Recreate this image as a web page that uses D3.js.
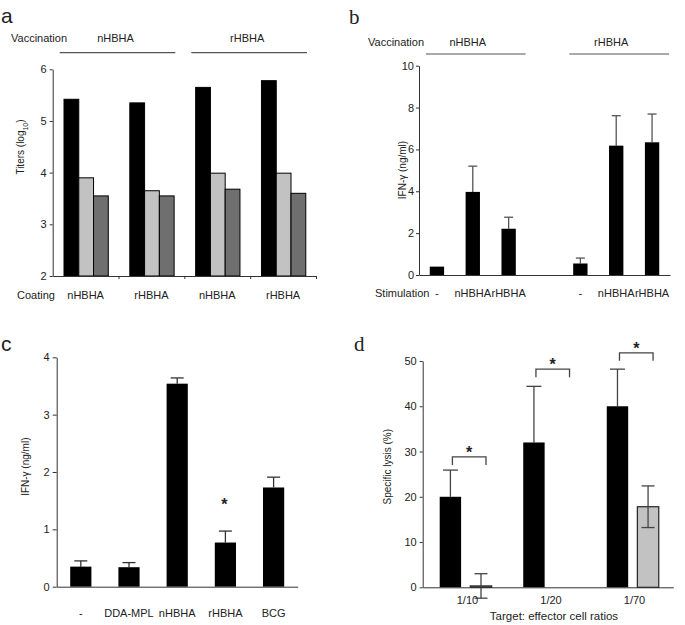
<!DOCTYPE html>
<html>
<head>
<meta charset="utf-8">
<script src="https://cdn.jsdelivr.net/npm/d3@7"></script>
<style>
  body { margin: 0; background: #fff; }
  svg text { font-family: "Liberation Sans", Arial, sans-serif; fill: #222; }
  .tick text { font-size: 11px; }
  .lab { font-size: 21px; fill: #222; }
  .serif { font-family: "Liberation Serif", "DejaVu Serif", serif !important; }
</style>
</head>
<body>
<svg id="fig" width="685" height="625"></svg>
<script>
// panel a
var coatingLabels = ['nHBHA', 'rHBHA', 'nHBHA', 'rHBHA'];
var vaccGroups = ['nHBHA', 'rHBHA'];
var titersBlack = [5.42, 5.35, 5.65, 5.78];
var titersLight = [3.90, 3.65, 3.99, 3.99];
var titersDark = [3.55, 3.55, 3.68, 3.60];
var titerTicks = [2, 3, 4, 5, 6];

// panel b
var stimLabels = ['-', 'nHBHA', 'rHBHA', '', '-', 'nHBHA', 'rHBHA'];
var ifnB = [0.4, 3.97, 2.21, null, 0.55, 6.18, 6.34];
var ifnBErr = [0, 1.23, 0.55, null, 0.26, 1.43, 1.35];
var ticksB = [0, 2, 4, 6, 8, 10];

// panel c
var groupsC = ['-', 'DDA-MPL', 'nHBHA', 'rHBHA', 'BCG'];
var ifnC = [0.35, 0.34, 3.54, 0.77, 1.73];
var ifnCErr = [0.10, 0.08, 0.10, 0.20, 0.18];
var ticksC = [0, 1, 2, 3, 4];
var starC = 'rHBHA';

// panel d
var ratios = ['1/10', '1/20', '1/70'];
var lysisBlack = [20, 32, 40];
var lysisBlackErr = [5.9, 12.4, 8.2];
var lysisGray = [0.3, 0, 17.8];
var lysisGrayErr = [2.7, 0, 4.6];
var bracketLevels = [28.8, 48.2, 51.8];
var ticksD = [0, 10, 20, 30, 40, 50];

var svg = d3.select('#fig');
var axisCol = '#333';
var fmt = d3.format('d');

function styleAxis(g) {
  g.selectAll('path, line').attr('stroke', axisCol);
  g.selectAll('text').attr('fill', '#111');
}

function panelLabel(t, x, y, serif) {
  svg.append('text').attr('class', 'lab' + (serif ? ' serif' : ''))
    .attr('x', x).attr('y', y).text(t);
}

function yTitle(x, y, parts) {
  var t = svg.append('text')
    .attr('transform', 'translate(' + x + ',' + y + ') rotate(-90)')
    .attr('text-anchor', 'middle')
    .style('font-size', '10px');
  parts.forEach(function(p) {
    var s = t.append('tspan').text(p.t);
    if (p.sub) s.attr('baseline-shift', 'sub').style('font-size', '7px');
  });
}

function errBar(g, cx, y0, y1, cap, col) {
  g.append('line').attr('x1', cx).attr('x2', cx).attr('y1', y0).attr('y2', y1)
    .attr('stroke', col).attr('stroke-width', 1.3);
  g.append('line').attr('x1', cx - cap / 2).attr('x2', cx + cap / 2).attr('y1', y1).attr('y2', y1)
    .attr('stroke', col).attr('stroke-width', 1.3);
}

/* ---------- a ---------- */
(function() {
  panelLabel('a', 1, 23, false);
  var y = d3.scaleLinear().domain([2, 6]).range([276, 69.3]);
  var x0 = d3.scaleBand().domain(d3.range(coatingLabels.length)).range([52.7, 316]).padding(0);
  var x1 = d3.scaleBand().domain(['black', 'light', 'dark']).range([11.3, 55.6]).padding(0);
  var fills = { black: '#000', light: '#c2c2c2', dark: '#6f6f6f' };
  var series = { black: titersBlack, light: titersLight, dark: titersDark };

  var g = svg.append('g');
  coatingLabels.forEach(function(c, i) {
    ['black', 'light', 'dark'].forEach(function(k) {
      var v = series[k][i];
      g.append('rect')
        .attr('x', x0(i) + x1(k))
        .attr('y', y(v))
        .attr('width', x1.bandwidth())
        .attr('height', y(2) - y(v))
        .attr('fill', fills[k])
        .attr('stroke', '#000')
        .attr('stroke-width', 1);
    });
    svg.append('text').attr('x', x0(i) + x0.bandwidth() / 2).attr('y', 299)
      .attr('text-anchor', 'middle').style('font-size', '11px').text(c);
  });

  svg.append('g').attr('transform', 'translate(52.7,0)')
    .call(d3.axisLeft(y).tickValues(titerTicks).tickFormat(fmt).tickSize(3).tickPadding(3).tickSizeOuter(0))
    .call(styleAxis);
  svg.append('g').attr('transform', 'translate(0,276)')
    .call(d3.axisBottom(d3.scaleLinear().domain([0, 4]).range([52.7, 316]))
      .tickValues([1, 2, 3, 4]).tickSize(3).tickFormat('').tickSizeOuter(0))
    .call(styleAxis);

  yTitle(24, 147, [{ t: 'Titers (log' }, { t: '10', sub: true }, { t: ')' }]);

  svg.append('text').attr('x', 11).attr('y', 42).style('font-size', '11px').text('Vaccination');
  svg.append('text').attr('x', 17).attr('y', 299).style('font-size', '11px').text('Coating');
  vaccGroups.forEach(function(v, j) {
    var xa = x0(j * 2) + 7, xb = x0(j * 2 + 1) + x0.bandwidth() - 9;
    svg.append('line').attr('x1', xa).attr('x2', xb).attr('y1', 52.7).attr('y2', 52.7)
      .attr('stroke', '#555').attr('stroke-width', 1.2);
    svg.append('text').attr('x', (xa + xb) / 2 - 2).attr('y', 42)
      .attr('text-anchor', 'middle').style('font-size', '11px').text(v);
  });
}());

/* ---------- b ---------- */
(function() {
  panelLabel('b', 349, 24, true);
  var y = d3.scaleLinear().domain([0, 10]).range([275, 65.7]);
  var x = d3.scaleBand().domain(d3.range(stimLabels.length)).range([419, 670])
    .paddingInner(0.6).paddingOuter(0.3);
  var g = svg.append('g');
  ifnB.forEach(function(v, i) {
    if (v === null) return;
    var cx = x(i) + x.bandwidth() / 2;
    if (ifnBErr[i] > 0) errBar(g, cx, y(v), y(v + ifnBErr[i]), 9, '#555');
    g.append('rect').attr('x', x(i)).attr('y', y(v)).attr('width', x.bandwidth())
      .attr('height', y(0) - y(v)).attr('fill', '#000');
    svg.append('text').attr('x', cx).attr('y', 297).attr('text-anchor', 'middle')
      .style('font-size', '11px').text(stimLabels[i]);
  });
  svg.append('g').attr('transform', 'translate(419,0)')
    .call(d3.axisLeft(y).tickValues(ticksB).tickFormat(fmt).tickSize(3).tickPadding(2).tickSizeOuter(0))
    .call(styleAxis);
  svg.append('g').attr('transform', 'translate(0,275)')
    .call(d3.axisBottom(d3.scaleLinear().range([419, 670])).tickValues([]).tickSizeOuter(0))
    .call(styleAxis);
  yTitle(406, 170, [{ t: 'IFN-\u03b3  (ng/ml)' }]);

  svg.append('text').attr('x', 368).attr('y', 45.5).style('font-size', '11px').text('Vaccination');
  svg.append('text').attr('x', 375).attr('y', 297).style('font-size', '11px').text('Stimulation');
  vaccGroups.forEach(function(v, j) {
    var c0 = x(j * 4) + x.bandwidth() / 2, c1 = x(j * 4 + 2) + x.bandwidth() / 2;
    svg.append('line').attr('x1', c0 - 11).attr('x2', c1 + 17).attr('y1', 54).attr('y2', 54)
      .attr('stroke', '#555').attr('stroke-width', 1.2);
    svg.append('text').attr('x', (c0 + c1) / 2 - 5).attr('y', 45.5)
      .attr('text-anchor', 'middle').style('font-size', '11px').text(v);
  });
}());

/* ---------- c ---------- */
(function() {
  panelLabel('c', 1, 351, false);
  var y = d3.scaleLinear().domain([0, 4]).range([586.7, 357.3]);
  var x = d3.scaleBand().domain(groupsC).range([56.7, 297.7]).paddingInner(0.56).paddingOuter(0.28);
  var g = svg.append('g');
  groupsC.forEach(function(k, i) {
    var v = ifnC[i], cx = x(k) + x.bandwidth() / 2;
    errBar(g, cx, y(v), y(v + ifnCErr[i]), 13, '#333');
    g.append('rect').attr('x', x(k)).attr('y', y(v)).attr('width', x.bandwidth())
      .attr('height', y(0) - y(v)).attr('fill', '#000');
    svg.append('text').attr('x', cx).attr('y', 616.5).attr('text-anchor', 'middle')
      .style('font-size', '11px').text(k);
  });
  svg.append('text').attr('x', x(starC) + x.bandwidth() / 2 - 1).attr('y', 509.5)
    .attr('text-anchor', 'middle').style('font-size', '16px').style('font-weight', 'bold').text('*');
  svg.append('g').attr('transform', 'translate(56.7,0)')
    .call(d3.axisLeft(y).tickValues(ticksC).tickFormat(fmt).tickSize(4).tickPadding(3).tickSizeOuter(0))
    .call(styleAxis);
  svg.append('g').attr('transform', 'translate(0,586.7)')
    .call(d3.axisBottom(d3.scaleLinear().range([56.7, 297.7])).tickValues([]).tickSizeOuter(0))
    .call(styleAxis);
  yTitle(29, 466.7, [{ t: 'IFN-\u03b3 (ng/ml)' }]);
}());

/* ---------- d ---------- */
(function() {
  panelLabel('d', 354, 351, true);
  var y = d3.scaleLinear().domain([0, 50]).range([587.3, 361]);
  var x0 = d3.scaleBand().domain(ratios).range([422.7, 673.3]).padding(0);
  var x1 = d3.scaleBand().domain(['black', 'gray']).range([17, 69]).paddingInner(0.3).paddingOuter(0);
  var g = svg.append('g');
  ratios.forEach(function(r, i) {
    var bx = x0(r) + x1('black'), gx = x0(r) + x1('gray'), w = x1.bandwidth();
    var vb = lysisBlack[i], vg = lysisGray[i];
    errBar(g, bx + w / 2, y(vb), y(vb + lysisBlackErr[i]), 15, '#444');
    g.append('rect').attr('x', bx).attr('y', y(vb)).attr('width', w)
      .attr('height', y(0) - y(vb)).attr('fill', '#000');
    g.append('rect').attr('x', gx).attr('y', y(vg)).attr('width', w)
      .attr('height', y(0) - y(vg)).attr('fill', '#c2c2c2').attr('stroke', '#222').attr('stroke-width', 1.2);
    if (lysisGrayErr[i] > 0) {
      errBar(g, gx + w / 2, y(vg), y(vg + lysisGrayErr[i]), 13, '#444');
      errBar(g, gx + w / 2, y(vg), y(vg - lysisGrayErr[i]), 13, '#444');
    }
    // significance bracket
    var bl = bx + w / 2 + 2, br = gx + w / 2 + 5, by = y(bracketLevels[i]);
    g.append('path')
      .attr('d', 'M' + bl + ',' + (by + 8) + 'V' + by + 'H' + br + 'V' + (by + 8))
      .attr('fill', 'none').attr('stroke', '#444').attr('stroke-width', 1.3);
    svg.append('text').attr('x', (bl + br) / 2).attr('y', by + 1).attr('text-anchor', 'middle')
      .style('font-size', '16px').style('font-weight', 'bold').text('*');
    svg.append('text').attr('x', x0(r) + x0.bandwidth() / 2 + 3).attr('y', 603.5)
      .attr('text-anchor', 'middle').style('font-size', '11px').text(r);
  });
  svg.append('g').attr('transform', 'translate(422.7,0)')
    .call(d3.axisLeft(y).tickValues(ticksD).tickFormat(fmt).tickSize(3).tickPadding(3).tickSizeOuter(0))
    .call(styleAxis);
  svg.append('g').attr('transform', 'translate(0,587.3)')
    .call(d3.axisBottom(d3.scaleLinear().range([422.7, 673.3])).tickValues([]).tickSizeOuter(0))
    .call(styleAxis);
  yTitle(390.5, 466.7, [{ t: 'Specific lysis (%)' }]);
  svg.append('text').attr('x', 554).attr('y', 619.5).attr('text-anchor', 'middle')
    .style('font-size', '11.5px').text('Target: effector cell ratios');
}());
</script>
</body>
</html>
